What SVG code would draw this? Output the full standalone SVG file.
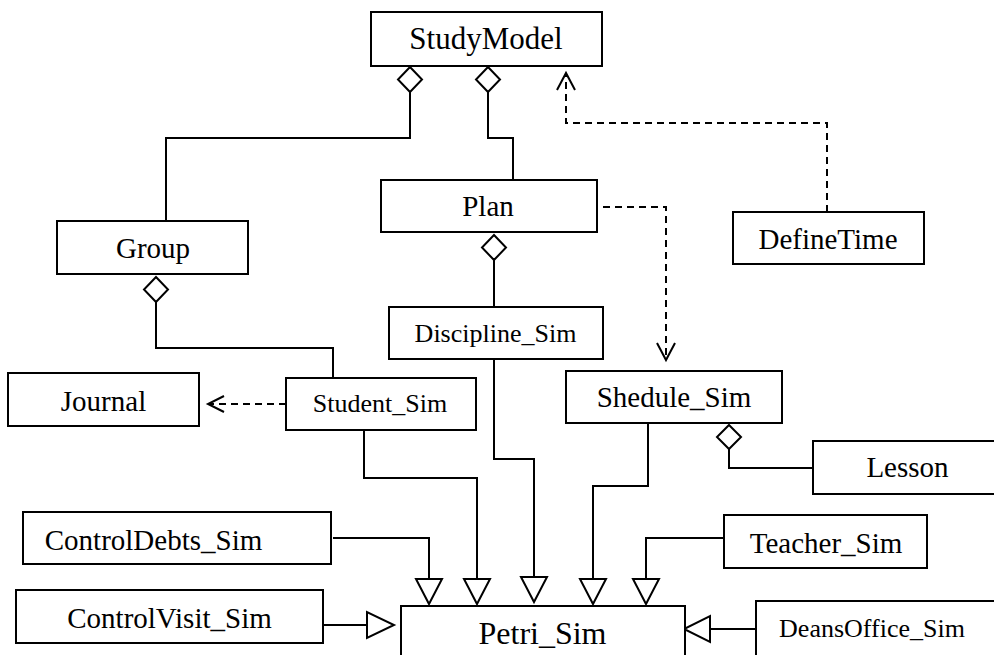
<svg xmlns="http://www.w3.org/2000/svg" width="994" height="655" viewBox="0 0 994 655">
<style>
.box{fill:#fff;stroke:#000;stroke-width:2}
.t{font-family:"Liberation Serif","Times New Roman",serif;font-size:29px;fill:#000;text-anchor:middle}
.s{font-size:26px}
.ln{fill:none;stroke:#000;stroke-width:2}
.dl{fill:none;stroke:#000;stroke-width:2;stroke-dasharray:7 5}
.hd{fill:#fff;stroke:#000;stroke-width:2}
.op{fill:none;stroke:#000;stroke-width:2}
</style>
<rect width="994" height="655" fill="#fff"/>
<g id="connectors">
  <path class="ln" d="M410,92 V138 H166 V221"/>
  <polygon class="hd" points="410,67 422,79.5 410,92 398,79.5"/>
  <path class="ln" d="M488,92 V138 H513 V180"/>
  <polygon class="hd" points="488,67 500,79.5 488,92 476,79.5"/>
  <path class="dl" d="M827,212 V123 H566 V75"/>
  <polyline class="op" points="557,90 566,73 575,90"/>
  <path class="dl" d="M603,207 H666 V358"/>
  <polyline class="op" points="657,343 666,360 675,343"/>
  <path class="ln" d="M494,260 V307"/>
  <polygon class="hd" points="494,235 506,247.5 494,260 482,247.5"/>
  <path class="ln" d="M156,302 V348 H333 V378"/>
  <polygon class="hd" points="156,277 168,289.5 156,302 144,289.5"/>
  <path class="dl" d="M286,404 H210"/>
  <polyline class="op" points="224,396 208,404 224,412"/>
  <path class="ln" d="M364,430 V478 H477 V579"/>
  <polygon class="hd" points="464,579 490,579 477,604"/>
  <path class="ln" d="M333,538 H429 V579"/>
  <polygon class="hd" points="416,579 442,579 429,604"/>
  <path class="ln" d="M323,625 H367"/>
  <polygon class="hd" points="367,612 367,638 394,625"/>
  <path class="ln" d="M494,359 V459 H534 V577"/>
  <polygon class="hd" points="521,577 547,577 534,602"/>
  <path class="ln" d="M648,423 V486 H593 V579"/>
  <polygon class="hd" points="580,579 606,579 593,604"/>
  <path class="ln" d="M724,538 H646 V579"/>
  <polygon class="hd" points="633,579 659,579 646,604"/>
  <path class="ln" d="M756,629 H710"/>
  <polygon class="hd" points="710,616 710,642 684,629"/>
  <path class="ln" d="M729,449 V468 H813"/>
  <polygon class="hd" points="729,425 741,437 729,449 717,437"/>
</g>
<g id="StudyModel"><rect class="box" x="371" y="12" width="231" height="54"/><text class="t" x="486" y="49" style="font-size:31px">StudyModel</text></g>
<g id="Group"><rect class="box" x="57" y="221" width="191" height="53"/><text class="t" x="153" y="258">Group</text></g>
<g id="Plan"><rect class="box" x="381" y="180" width="216" height="52"/><text class="t" x="488" y="216">Plan</text></g>
<g id="DefineTime"><rect class="box" x="733" y="212" width="191" height="52"/><text class="t" x="828" y="249">DefineTime</text></g>
<g id="Discipline_Sim"><rect class="box" x="389" y="307" width="214" height="52"/><text class="t s" x="495.5" y="342">Discipline_Sim</text></g>
<g id="Journal"><rect class="box" x="8" y="373" width="191" height="53"/><text class="t" x="103.5" y="411">Journal</text></g>
<g id="Student_Sim"><rect class="box" x="286" y="378" width="190" height="52"/><text class="t s" x="380" y="412">Student_Sim</text></g>
<g id="Shedule_Sim"><rect class="box" x="566" y="371" width="216" height="52"/><text class="t" x="674" y="407">Shedule_Sim</text></g>
<g id="Lesson"><rect class="box" x="813" y="441" width="190" height="53"/><text class="t" x="907.5" y="477">Lesson</text></g>
<g id="ControlDebts_Sim"><rect class="box" x="23" y="512" width="308" height="52"/><text class="t" x="153.5" y="550">ControlDebts_Sim</text></g>
<g id="Teacher_Sim"><rect class="box" x="724" y="515" width="203" height="53"/><text class="t" x="826" y="553">Teacher_Sim</text></g>
<g id="ControlVisit_Sim"><rect class="box" x="16" y="590" width="307" height="53"/><text class="t" x="169.5" y="628">ControlVisit_Sim</text></g>
<g id="DeansOffice_Sim"><rect class="box" x="756" y="601" width="250" height="70"/><text class="t s" x="872" y="637">DeansOffice_Sim</text></g>
<g id="Petri_Sim"><rect class="box" x="401" y="606" width="284" height="70"/><text class="t" x="542.5" y="644" style="font-size:32px">Petri_Sim</text></g>
</svg>
